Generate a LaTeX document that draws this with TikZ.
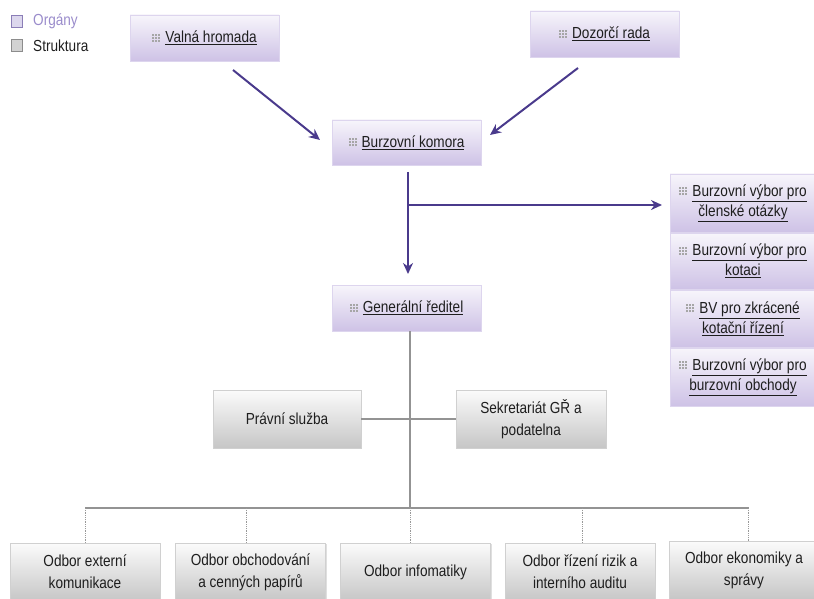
\documentclass[tikz,border=0pt]{standalone}
\usepackage{fontspec}
\setmainfont[FakeStretch=0.85]{Liberation Sans}
\usetikzlibrary{arrows.meta,shadows}
\definecolor{arrowc}{HTML}{4A3A8C}
\definecolor{purtop}{HTML}{F7F5FB}
\definecolor{purbot}{HTML}{CEC2E6}
\definecolor{purdraw}{HTML}{DDD5EE}
\definecolor{grytop}{HTML}{FBFBFB}
\definecolor{grybot}{HTML}{C6C6C6}
\definecolor{grydraw}{HTML}{D0D0D0}
\definecolor{txt}{HTML}{1E1E1E}
\definecolor{legp}{HTML}{9A8CCB}
\newcommand{\gdot}{\rule{2.1pt}{2.1pt}}
\newcommand{\grow}{\hbox{\gdot\kern0.9pt\gdot\kern0.9pt\gdot}}
\newcommand{\gicon}{{\color{gray!70}\raisebox{1pt}{\vbox{\offinterlineskip\grow\kern0.9pt\grow\kern0.9pt\grow}}}\hspace{5pt}}
\tikzset{
  organ/.style={draw=purdraw, top color=purtop, bottom color=purbot, inner sep=0pt, align=center, font=\fontsize{16}{20}\selectfont, text=txt},
  struct/.style={draw=grydraw, top color=grytop, bottom color=grybot, inner sep=0pt, align=center, font=\fontsize{16}{22}\selectfont, text=txt, drop shadow={shadow xshift=1pt, shadow yshift=-1pt, opacity=0.25}},
  parrow/.style={draw=arrowc, line width=2pt, -{Stealth[length=11pt,width=10pt]}},
  gline/.style={draw=gray!85, line width=1.5pt},
  dline/.style={draw=gray!80, line width=0.8pt, densely dotted},
}
\begin{document}
\begin{tikzpicture}[x=1pt,y=-1pt]
\useasboundingbox (0,0) rectangle (814,599);
% legend
\node[draw=legp!90!black, fill=legp!35, minimum width=11pt, minimum height=12pt, inner sep=0pt] (lg1) at (17,21) {};
\node[draw=gray!90, fill=gray!35, minimum width=11pt, minimum height=12pt, inner sep=0pt] (lg2) at (17,45) {};
\node[anchor=west, text=legp, font=\fontsize{16}{18}\selectfont, inner sep=0pt] (lt1) at (33,21) {Orgány};
\node[anchor=west, text=txt, font=\fontsize{16}{18}\selectfont, inner sep=0pt] (lt2) at (33,46) {Struktura};
% organ boxes
\node[organ, minimum width=149pt, minimum height=46pt] (vh) at (204.5,38) {\gicon\underline{Valná hromada}};
\node[organ, minimum width=149pt, minimum height=46pt] (dr) at (604.5,34) {\gicon\underline{Dozorčí rada}};
\node[organ, minimum width=149pt, minimum height=45pt] (bk) at (406.5,142.5) {\gicon\underline{Burzovní komora}};
\node[organ, minimum width=149pt, minimum height=46pt] (gr) at (406.5,308) {\gicon\underline{Generální ředitel}};
\node[organ, minimum width=146pt, minimum height=58pt] (v1) at (743,203) {\gicon\underline{Burzovní výbor pro}\\\underline{členské otázky}};
\node[organ, minimum width=146pt, minimum height=56pt] (v2) at (743,261) {\gicon\underline{Burzovní výbor pro}\\\underline{kotaci}};
\node[organ, minimum width=146pt, minimum height=57pt] (v3) at (743,318.5) {\gicon\underline{BV pro zkrácené}\\\underline{kotační řízení}};
\node[organ, minimum width=146pt, minimum height=58pt] (v4) at (743,377) {\gicon\underline{Burzovní výbor pro}\\\underline{burzovní obchody}};
% structure boxes
\node[struct, minimum width=148pt, minimum height=58pt] (ps) at (287,419) {Právní služba};
\node[struct, minimum width=150pt, minimum height=58pt] (sk) at (531,419) {Sekretariát GŘ a\\podatelna};
\node[struct, minimum width=150pt, minimum height=58pt] (o1) at (85,572) {Odbor externí\\komunikace};
\node[struct, minimum width=150pt, minimum height=58pt] (o2) at (250.5,572) {Odbor obchodování\\a cenných papírů};
\node[struct, minimum width=150pt, minimum height=58pt] (o3) at (415.5,572) {Odbor infomatiky};
\node[struct, minimum width=150pt, minimum height=58pt] (o4) at (580,572) {Odbor řízení rizik a\\interního auditu};
\node[struct, minimum width=150pt, minimum height=58pt] (o5) at (744,570) {Odbor ekonomiky a\\správy};
% arrows
\coordinate (a1s) at (233,70);
\coordinate (a2s) at (578,68);
\coordinate (a3s) at (408,172);
\coordinate (br) at (408,205);
\draw[parrow] (a1s) -- (320,140);
\draw[parrow] (a2s) -- (490,135);
\draw[parrow] (a3s) -- (408,274);
\draw[parrow] (br) -- (662,205);
% structure lines
\coordinate (gb) at (410,331);
\coordinate (hb) at (410,508);
\coordinate (hl) at (85,508);
\coordinate (hr) at (749,508);
\draw[gline] (gr.south -| gb) -- (hb);
\draw[gline] (ps.east) -- (sk.west);
\draw[gline] (hl) -- (hr);
\foreach \o/\x in {o1/85, o2/246, o3/410, o4/582, o5/748}{
  \draw[dline] (\x,508) -- (\o.north -| \x,0);
}
\end{tikzpicture}
\end{document}
